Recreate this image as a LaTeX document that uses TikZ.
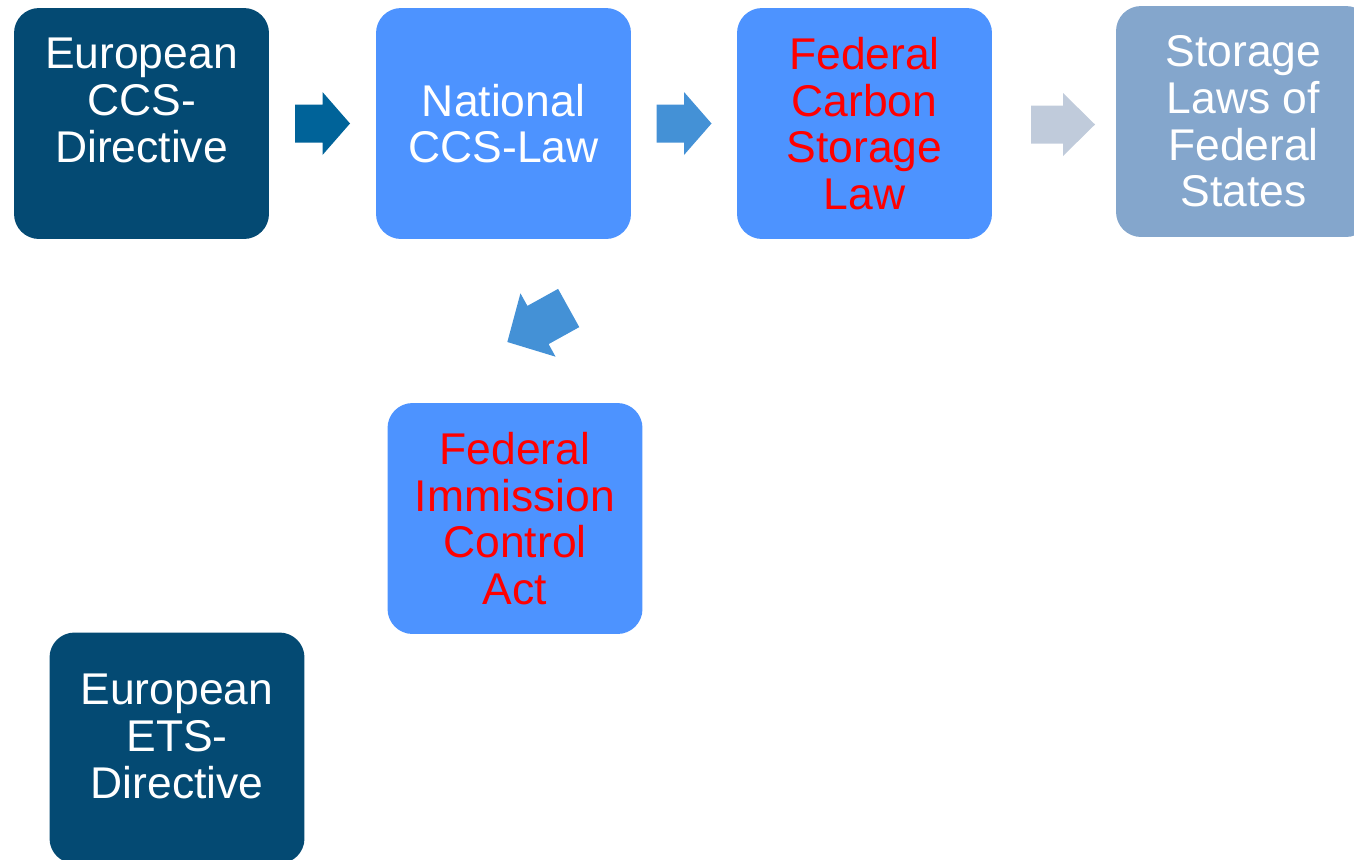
\documentclass[tikz,border=0pt]{standalone}
\usepackage{fontspec}
\setmainfont{Liberation Sans}
\usetikzlibrary{calc}

\definecolor{eudark}{RGB}{4,74,115}
\definecolor{natblue}{RGB}{77,147,255}
\definecolor{stategray}{RGB}{132,166,204}
\definecolor{arrowdark}{RGB}{0,99,153}
\definecolor{arrowmid}{RGB}{68,145,214}
\definecolor{arrowpale}{RGB}{192,203,219}

\tikzset{
  pics/blockarrow/.style={code={
    \fill (-#1/2,-19) -- (0,-19) -- (0,-31.5) -- (#1/2,0)
          -- (0,31.5) -- (0,19) -- (-#1/2,19) -- cycle;
  }}
}

\begin{document}
\begin{tikzpicture}[x=0.02cm, y=-0.02cm,
    every node/.style={font=\fontsize{25.3}{26.6}\selectfont, align=center},
    law/.style={rectangle, rounded corners=0.5cm, minimum width=5.1cm,
                minimum height=4.62cm, inner sep=0pt, text=white},
    eulaw/.style={law, fill=eudark},
    natlaw/.style={law, fill=natblue},
    redlaw/.style={law, fill=natblue, text=red},
    statelaw/.style={law, fill=stategray}]

\useasboundingbox (0,0) rectangle (1354,859);

% top row
\node[eulaw] (eucss) at (141.5,123.5) {European\\CCS-\\Directive\\~};
\node[natlaw] (natccs) at (503.5,123.5) {National\\CCS-Law};
\node[redlaw] (fedstore) at (864.5,123.5) {Federal\\Carbon\\Storage\\Law};
\node[statelaw] (states) at (1243.5,121.5) {Storage\\Laws of\\Federal\\States};

% lower boxes
\node[redlaw] (immission) at (515,518.5) {Federal\\Immission\\Control\\Act};
\node[eulaw] (euets) at (177,748) {European\\ETS-\\Directive\\[-13pt]~};

% block arrows
\pic[color=arrowdark] at ($(eucss.east)!0.5!(natccs.west)$) {blockarrow=55};
\pic[color=arrowmid] at ($(natccs.east)!0.5!(fedstore.west)$) {blockarrow=55};
\pic[color=arrowpale] at ($(fedstore.east)!0.5!(states.west)+(9,2)$) {blockarrow=64};
\pic[color=arrowmid, rotate=209, scale=1.15] at (538,325) {blockarrow=61};
\end{tikzpicture}
\end{document}
